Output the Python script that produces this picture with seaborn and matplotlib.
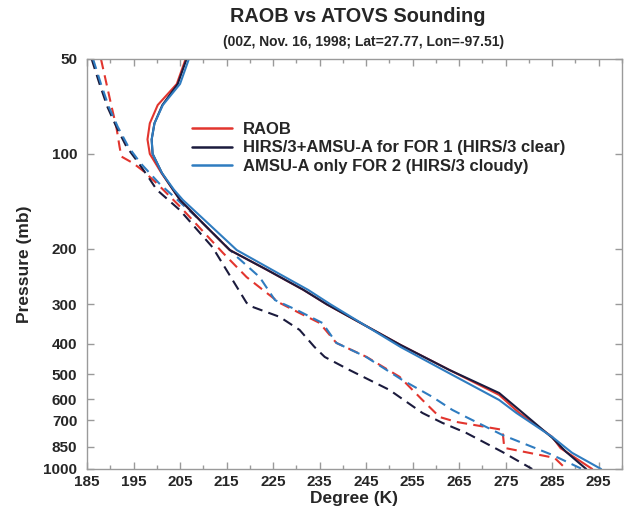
import seaborn as sns
import matplotlib.pyplot as plt
from matplotlib.ticker import FixedLocator, NullLocator

# --- data (temperature K vs pressure mb) ---
raob_t_p = [50, 60, 70, 80, 90, 100, 115, 130, 140, 166, 202, 233, 270, 300, 404, 485, 582, 664, 791, 859, 1000]
raob_t = [206.2, 204.3, 200.2, 198.5, 198.0, 198.5, 201.0, 203.5, 205.0, 209.9, 215.7, 223.6, 231.5, 236.5,
          252.4, 262.9, 273.6, 277.9, 285.0, 286.8, 293.6]

hirs_t_p = [50, 60, 70, 80, 90, 100, 115, 130, 140, 166, 202, 233, 270, 300, 404, 485, 574, 649, 796, 883, 1000]
hirs_t = [206.4, 204.5, 201.2, 199.5, 198.9, 199.1, 201.1, 203.5, 205.0, 209.9, 215.7, 223.6, 231.5, 236.5,
          252.4, 262.9, 273.6, 277.9, 285.0, 288.0, 292.3]

amsu_t_p = [50, 60, 70, 80, 90, 100, 115, 130, 140, 166, 202, 233, 270, 300, 410, 497, 604, 664, 791, 889, 1000]
amsu_t = [206.9, 205.0, 201.3, 199.5, 198.9, 199.1, 201.1, 203.7, 205.6, 211.0, 217.2, 224.7, 232.5, 237.3,
          252.4, 262.9, 273.6, 277.3, 285.0, 289.3, 295.5]

# dew point profiles (dashed)
raob_td_p = [50, 60, 71, 82, 95, 102, 107, 113, 124, 147, 206, 246, 276, 297, 320, 344, 398, 441, 510, 604,
             684, 709, 751, 857, 922, 1000]
raob_td = [188.0, 189.2, 190.3, 191.3, 192.0, 192.4, 194.9, 197.0, 200.0, 205.0, 214.2, 219.3, 223.6, 226.4,
           230.7, 235.0, 238.6, 245.1, 252.2, 257.1, 260.8, 264.4, 274.3, 274.7, 285.5, 288.0]

hirs_td_p = [50, 60, 71, 82, 95, 105, 118, 130, 151, 198, 297, 306, 329, 362, 410, 441, 485, 561, 664, 714,
             768, 883, 1000]
hirs_td = [186.0, 187.7, 189.4, 191.3, 193.5, 195.7, 198.1, 200.0, 205.0, 212.0, 219.3, 220.6, 226.4, 230.7,
           233.9, 236.1, 241.4, 250.0, 257.1, 261.4, 266.5, 274.3, 280.7]

amsu_td_p = [50, 60, 71, 82, 95, 107, 124, 162, 212, 246, 291, 313, 344, 398, 441, 521, 590, 649, 684, 780,
             902, 1000]
amsu_td = [186.3, 188.0, 189.7, 191.6, 193.9, 196.5, 200.5, 209.2, 217.2, 222.1, 225.4, 230.1, 235.6, 238.6,
           245.0, 252.7, 259.2, 263.5, 266.5, 274.3, 285.0, 291.4]

p_ticks = [50, 100, 200, 300, 400, 500, 600, 700, 850, 1000]

RED = '#e2352e'
NAVY = '#1b1b3d'
BLUE = '#2f7cc0'

sns.set_theme(style='ticks')
plt.rcParams['font.family'] = ['Liberation Sans', 'DejaVu Sans']
plt.rcParams['font.weight'] = 'bold'

fig = plt.figure(figsize=(6.25, 5.17), dpi=100)
ax = fig.add_axes([87 / 625, 1 - 469 / 517, (622 - 87) / 625, (469 - 59) / 517])

# dashed profiles first, solid ones on top
dash = (0, (5, 3))
sns.lineplot(x=raob_td, y=raob_td_p, sort=False, estimator=None, color=RED, lw=1.5, linestyle=dash, ax=ax)
sns.lineplot(x=hirs_td, y=hirs_td_p, sort=False, estimator=None, color=NAVY, lw=1.5, linestyle=dash, ax=ax)
sns.lineplot(x=amsu_td, y=amsu_td_p, sort=False, estimator=None, color=BLUE, lw=1.5, linestyle=dash, ax=ax)

sns.lineplot(x=raob_t, y=raob_t_p, sort=False, estimator=None, color=RED, lw=1.5, ax=ax, label='RAOB')
sns.lineplot(x=hirs_t, y=hirs_t_p, sort=False, estimator=None, color=NAVY, lw=1.5, ax=ax,
             label='HIRS/3+AMSU-A for FOR 1 (HIRS/3 clear)')
sns.lineplot(x=amsu_t, y=amsu_t_p, sort=False, estimator=None, color=BLUE, lw=1.5, ax=ax,
             label='AMSU-A only FOR 2 (HIRS/3 cloudy)')

ax.set_yscale('log')
ax.set_ylim(1000, 50)
ax.yaxis.set_major_locator(FixedLocator(p_ticks))
ax.yaxis.set_minor_locator(NullLocator())
ax.set_yticklabels([str(p) for p in p_ticks])

ax.set_xlim(185, 300)
ax.xaxis.set_major_locator(FixedLocator(list(range(185, 300, 10))))
ax.xaxis.set_minor_locator(FixedLocator(list(range(190, 301, 10))))

for s in ax.spines.values():
    s.set_visible(True)
    s.set_color('#9a9a9a')
    s.set_linewidth(1.0)

ax.tick_params(axis='both', which='both', direction='in', top=True, right=True, color='#9a9a9a', width=1)
ax.tick_params(axis='both', which='major', length=5, labelsize=11)
ax.tick_params(axis='both', which='minor', length=3)
ax.tick_params(axis='x', pad=4)
ax.tick_params(axis='y', pad=7)

ax.set_xlabel('Degree (K)', fontsize=12.5, fontweight='bold', labelpad=2)
ax.set_ylabel('Pressure (mb)', fontsize=12.5, fontweight='bold', labelpad=8)

leg = ax.legend(loc='upper left', bbox_to_anchor=(0.196, 0.847), frameon=False, fontsize=12,
                handlelength=2.4, handletextpad=0.65, labelspacing=0.22, borderpad=0, borderaxespad=0)
for h in leg.get_lines():
    h.set_linewidth(1.8)

fig.text(358 / 625, 1 - 17 / 517, 'RAOB vs ATOVS Sounding', ha='center', va='center',
         fontsize=14.3, fontweight='bold')
fig.text(364 / 625, 1 - 42 / 517, '(00Z, Nov. 16, 1998; Lat=27.77, Lon=-97.51)', ha='center', va='center',
         fontsize=10, fontweight='bold')

fig.savefig('out.png', dpi=100)
